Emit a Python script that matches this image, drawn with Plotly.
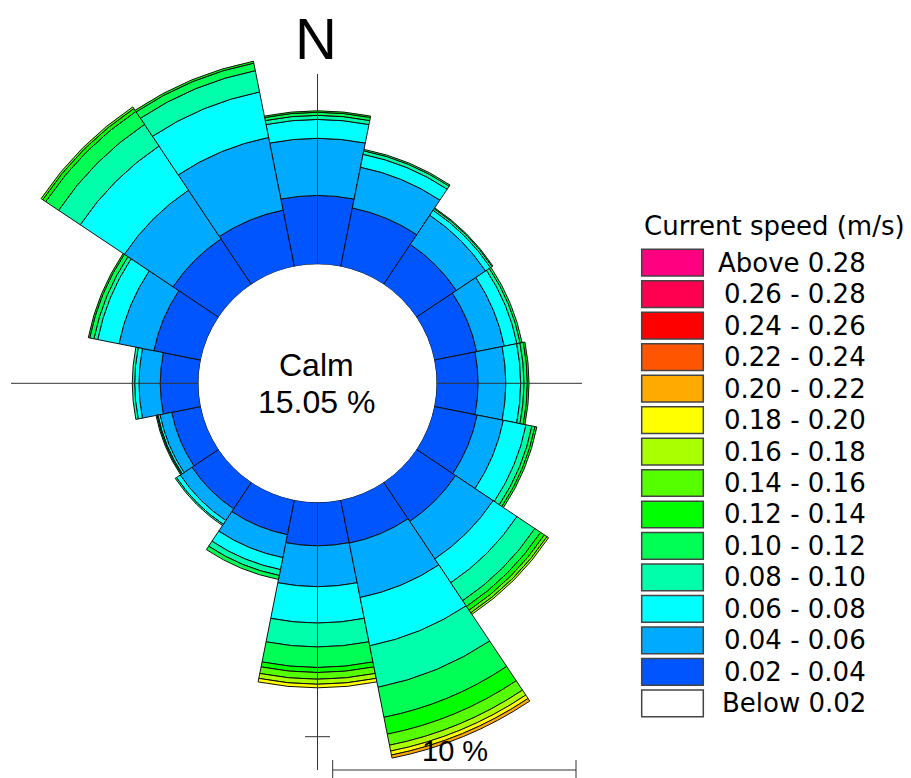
import math
import plotly.graph_objects as go

# ---------------- data (percent of time) ----------------
DIRECTIONS = ["N", "NNE", "NE", "ENE", "E", "ESE", "SE", "SSE",
              "S", "SSW", "SW", "WSW", "W", "WNW", "NW", "NNW"]

CALM_PCT = 15.05

F_002_004 = [2.88, 2.50, 2.01, 1.81, 1.74, 1.83, 1.97, 1.84, 1.82, 1.48, 1.34, 1.24, 1.60, 2.00, 2.29, 2.41]
F_004_006 = [2.39, 1.74, 1.47, 1.18, 1.16, 1.12, 1.89, 2.32, 1.71, 0.98, 0.59, 0.50, 0.89, 1.49, 2.45, 3.10]
F_006_008 = [0.79, 0.55, 0.25, 0.54, 0.62, 0.97, 1.20, 2.06, 1.52, 0.51, 0.19, 0.09, 0.18, 0.91, 2.22, 1.94]
F_008_010 = [0.17, 0.15, 0.08, 0.14, 0.14, 0.25, 0.90, 1.77, 1.00, 0.25, 0.06, 0.04, 0.10, 0.16, 1.09, 0.91]
F_010_012 = [0.13, 0.06, 0.04, 0.08, 0.14, 0.13, 0.29, 1.28, 0.86, 0.17, 0.00, 0.04, 0.00, 0.18, 0.65, 0.32]
F_012_014 = [0.06, 0.00, 0.00, 0.00, 0.07, 0.08, 0.19, 0.72, 0.21, 0.00, 0.00, 0.00, 0.00, 0.06, 0.15, 0.08]
F_014_016 = [0.00, 0.00, 0.00, 0.00, 0.00, 0.00, 0.13, 0.47, 0.28, 0.00, 0.00, 0.00, 0.00, 0.00, 0.08, 0.00]
F_016_018 = [0.00, 0.00, 0.00, 0.00, 0.00, 0.00, 0.08, 0.25, 0.21, 0.00, 0.00, 0.00, 0.00, 0.00, 0.00, 0.00]
F_018_020 = [0.00, 0.00, 0.00, 0.00, 0.00, 0.00, 0.00, 0.17, 0.15, 0.00, 0.00, 0.00, 0.00, 0.00, 0.00, 0.00]
F_020_022 = [0.00, 0.00, 0.00, 0.00, 0.00, 0.00, 0.00, 0.13, 0.00, 0.00, 0.00, 0.00, 0.00, 0.00, 0.00, 0.00]
F_022_024 = [0.0] * 16
F_024_026 = [0.0] * 16
F_026_028 = [0.0] * 16
F_ABOVE_028 = [0.0] * 16

BIN_LABELS = ["0.02 - 0.04", "0.04 - 0.06", "0.06 - 0.08", "0.08 - 0.10",
              "0.10 - 0.12", "0.12 - 0.14", "0.14 - 0.16", "0.16 - 0.18",
              "0.18 - 0.20", "0.20 - 0.22", "0.22 - 0.24", "0.24 - 0.26",
              "0.26 - 0.28", "Above 0.28"]
BIN_VALUES = [F_002_004, F_004_006, F_006_008, F_008_010, F_010_012, F_012_014,
              F_014_016, F_016_018, F_018_020, F_020_022, F_022_024, F_024_026,
              F_026_028, F_ABOVE_028]
BIN_COLORS = ["#0055FF", "#00AAFF", "#00FFFF", "#00FFAA", "#00FF55", "#00FF00",
              "#55FF00", "#AAFF00", "#FFFF00", "#FFAA00", "#FF5500", "#FF0000",
              "#FF0050", "#FF0080"]
BELOW_LABEL = "Below 0.02"
LEGEND_TITLE = "Current speed (m/s)"
SCALE_LABEL = "10 %"

# ---------------- geometry (pixels) ----------------
W, H = 911, 778
CX, CY = 317.5, 383.3      # rose centre
CALM_PX = 119.0            # radius of calm circle
PX_PER_PCT = 23.9
LINE_COL = "#333333"
ARIAL = "Liberation Sans, Arial, sans-serif"


def px_x(x):
    return x / W


def px_y(y):
    return 1 - y / H


# The rose is split over three polar subplots sharing the same centre and
# scale; the two partial sectors allow the long bars to go past the
# figure-limited radius of the full-circle subplot.
# (name, sector in layout degrees, outer radius px, owned directions)
SUBPLOTS = [
    ("polar", None, CX, None),
    ("polar2", (90, 150), 360.0, {"NW", "NNW"}),
    ("polar3", (270, 360), 390.0, {"SE", "SSE"}),
]
all_special = set().union(*[s[3] for s in SUBPLOTS if s[3]])

fig = go.Figure()
layout_polars = {}

for name, sector, R, owned in SUBPLOTS:
    if owned is None:
        keep = [d not in all_special for d in DIRECTIONS]
    else:
        keep = [d in owned for d in DIRECTIONS]
    for label, vals, color in zip(BIN_LABELS, BIN_VALUES, BIN_COLORS):
        fig.add_trace(go.Barpolar(
            r=[v if k else 0 for v, k in zip(vals, keep)], theta=DIRECTIONS, name=label,
            subplot=name,
            marker=dict(color=color, line=dict(color="#111111", width=1)),
            showlegend=False, hoverinfo="skip"))

    if sector is None:
        xs, ys = [-1, 1], [-1, 1]
    else:
        a0, a1 = sector
        pts = [(0.0, 0.0)]
        for a in [a0, a1] + [a for a in (0, 90, 180, 270, 360) if a0 <= a <= a1]:
            pts.append((math.cos(math.radians(a)), math.sin(math.radians(a))))
        xs = [min(p[0] for p in pts), max(p[0] for p in pts)]
        ys = [min(p[1] for p in pts), max(p[1] for p in pts)]
    dom_x = [px_x(CX + xs[0] * R), px_x(CX + xs[1] * R)]
    dom_y = [px_y(CY - ys[0] * R), px_y(CY - ys[1] * R)]
    pol = dict(
        domain=dict(x=dom_x, y=dom_y),
        hole=CALM_PX / R,
        bargap=0,
        barmode="stack",
        bgcolor="rgba(0,0,0,0)",
        radialaxis=dict(range=[0, (R - CALM_PX) / PX_PER_PCT], visible=False),
        angularaxis=dict(direction="clockwise", rotation=90, visible=False,
                         categoryorder="array", categoryarray=DIRECTIONS),
    )
    if sector is not None:
        pol["sector"] = list(sector)
    layout_polars[name] = pol

shapes = []
annotations = []


def hline(x0, x1, y):
    shapes.append(dict(type="line", xref="paper", yref="paper", layer="above",
                       x0=px_x(x0), x1=px_x(x1), y0=px_y(y), y1=px_y(y),
                       line=dict(color=LINE_COL, width=1)))


def vline(x, y0, y1):
    shapes.append(dict(type="line", xref="paper", yref="paper", layer="above",
                       x0=px_x(x), x1=px_x(x), y0=px_y(y0), y1=px_y(y1),
                       line=dict(color=LINE_COL, width=1)))


# cross-hair lines from the calm circle outwards
vline(CX, 74, CY - CALM_PX)
vline(CX, CY + CALM_PX, 770)
hline(11, CX - CALM_PX, CY)
hline(CX + CALM_PX, 582, CY)
# tick on the south axis
hline(305, 330, 736.7)
# scale bar
sx0, sx1, sy = 332.7, 576.0, 770.0
hline(sx0, sx1, sy)
vline(sx0, 760, 780)
vline(sx1, 760, 780)
annotations.append(dict(text=SCALE_LABEL, x=px_x(455), y=px_y(751), xref="paper", yref="paper",
                        showarrow=False, xanchor="center", yanchor="middle",
                        font=dict(family=ARIAL, size=29, color="black")))

# N label
annotations.append(dict(text="N", x=px_x(316), y=px_y(38), xref="paper", yref="paper",
                        showarrow=False, xanchor="center", yanchor="middle",
                        font=dict(family=ARIAL, size=58, color="black")))

# calm text
annotations.append(dict(text="Calm", x=px_x(316.5), y=px_y(364.5), xref="paper", yref="paper",
                        showarrow=False, xanchor="center", yanchor="middle",
                        font=dict(family=ARIAL, size=32, color="black")))
annotations.append(dict(text=f"{CALM_PCT:.2f} %", x=px_x(316.5), y=px_y(401.5), xref="paper", yref="paper",
                        showarrow=False, xanchor="center", yanchor="middle",
                        font=dict(family=ARIAL, size=32, color="black")))

# legend
LEG_FONT = dict(family="DejaVu Sans, sans-serif", size=26, color="black")
annotations.append(dict(text=LEGEND_TITLE, x=px_x(641.7), y=px_y(226), xref="paper", yref="paper",
                        showarrow=False, xanchor="left", yanchor="middle", font=LEG_FONT))
leg_labels = list(reversed(BIN_LABELS)) + [BELOW_LABEL]
leg_colors = list(reversed(BIN_COLORS)) + ["#FFFFFF"]
top0, pitch, bh = 249.3, 31.48, 26.7
for i, (lab, col) in enumerate(zip(leg_labels, leg_colors)):
    t = top0 + i * pitch
    shapes.append(dict(type="rect", xref="paper", yref="paper",
                       x0=px_x(641.7), x1=px_x(703.3), y0=px_y(t + bh), y1=px_y(t),
                       fillcolor=col, line=dict(color="#444444", width=1.5)))
    annotations.append(dict(text=lab, x=px_x(868.3), y=px_y(t + bh / 2), xref="paper", yref="paper",
                            showarrow=False, xanchor="right", yanchor="middle", font=LEG_FONT))

fig.update_layout(
    width=W, height=H,
    margin=dict(l=0, r=0, t=0, b=0),
    paper_bgcolor="white", plot_bgcolor="white",
    showlegend=False,
    shapes=shapes, annotations=annotations,
    **layout_polars,
)

fig.write_html("out.html")
